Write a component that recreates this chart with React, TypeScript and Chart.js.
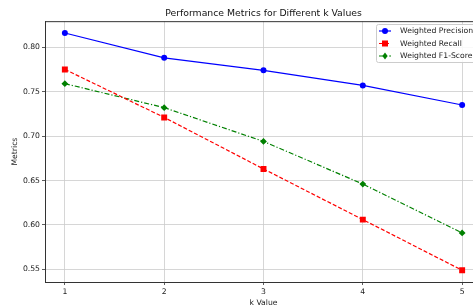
import React, { useEffect, useRef } from "react";
import { Chart, registerables } from "chart.js";

Chart.register(...registerables);

const kValues = [1, 2, 3, 4, 5];
const precision = [0.816, 0.788, 0.774, 0.757, 0.735];
const recall = [0.775, 0.721, 0.663, 0.606, 0.549];
const f1 = [0.759, 0.732, 0.694, 0.646, 0.591];
const yTicks = [0.55, 0.6, 0.65, 0.7, 0.75, 0.8];
const xTicks = [1, 2, 3, 4, 5];
const seriesNames = ["Weighted Precision", "Weighted Recall", "Weighted F1-Score"];

const FONT = "'DejaVu Sans', sans-serif";

const legendPlugin = {
  id: "mplLegend",
  afterDraw(chart: any) {
    const ctx = chart.ctx;
    const { top, right, left } = chart.chartArea;
    ctx.save();
    // top and right spines
    ctx.strokeStyle = "#333";
    ctx.lineWidth = 1;
    ctx.beginPath();
    ctx.moveTo(left, top + 0.5);
    ctx.lineTo(right, top + 0.5);
    ctx.stroke();
    ctx.beginPath();
    ctx.moveTo(right - 0.5, top);
    ctx.lineTo(right - 0.5, chart.chartArea.bottom);
    ctx.stroke();

    const bx = 376.5, by = 24.5, bw = 112, bh = 38;
    ctx.fillStyle = "rgba(255,255,255,0.85)";
    ctx.strokeStyle = "#cccccc";
    ctx.beginPath();
    (ctx as any).roundRect(bx, by, bw, bh, 2);
    ctx.fill();
    ctx.stroke();
    ctx.font = `7.7px ${FONT}`;
    ctx.textBaseline = "middle";
    chart.data.datasets.forEach((ds: any, i: number) => {
      const y = 31 + i * 12.5;
      ctx.strokeStyle = ds.borderColor;
      ctx.lineWidth = 1.2;
      ctx.setLineDash(ds.borderDash || []);
      ctx.beginPath();
      ctx.moveTo(379, y);
      ctx.lineTo(391, y);
      ctx.stroke();
      ctx.setLineDash([]);
      ctx.fillStyle = ds.borderColor;
      const cx = 385;
      ctx.beginPath();
      if (ds.pointStyle === "circle") {
        ctx.arc(cx, y, 3, 0, Math.PI * 2);
        ctx.fill();
      } else if (ds.pointStyle === "rect") {
        ctx.fillRect(cx - 3, y - 3, 6, 6);
      } else {
        ctx.moveTo(cx, y - 3.6);
        ctx.lineTo(cx + 2.6, y);
        ctx.lineTo(cx, y + 3.6);
        ctx.lineTo(cx - 2.6, y);
        ctx.closePath();
        ctx.fill();
      }
      ctx.fillStyle = "#222";
      ctx.fillText(seriesNames[i], 400, y + 0.5);
    });
    ctx.restore();
  },
};

export default function App() {
  const ref = useRef<HTMLCanvasElement>(null);
  useEffect(() => {
    if (!ref.current) return;
    const mk = (i: number, vals: number[], color: string, style: string, dash: number[], r: number) => ({
      label: seriesNames[i],
      data: kValues.map((k, j) => ({ x: k, y: vals[j] })),
      borderColor: color,
      backgroundColor: color,
      borderWidth: 1.2,
      borderDash: dash,
      pointStyle: style,
      pointRadius: r,
      pointBorderWidth: 0,
      tension: 0,
    });
    const chart = new Chart(ref.current, {
      type: "line",
      data: {
        datasets: [
          mk(0, precision, "#0000ff", "circle", [], 3),
          mk(1, recall, "#ff0000", "rect", [4, 2], 4.2),
          mk(2, f1, "#008000", "rectRot", [5, 2, 1.2, 2], 3.4),
        ] as any,
      },
      options: {
        animation: false,
        responsive: false,
        devicePixelRatio: 1,
        layout: { padding: { left: 0, right: 8, top: 0, bottom: 0 } },
        plugins: {
          legend: { display: false },
          tooltip: { enabled: false },
          title: {
            display: true,
            text: "Performance Metrics for Different k Values",
            fullSize: false,
            color: "#111",
            font: { family: FONT, size: 9.3, weight: "normal" as any, lineHeight: 1.2 },
            padding: { top: 8, bottom: 2 },
          },
        },
        scales: {
          x: {
            type: "linear",
            min: 0.8,
            max: 5.2,
            afterBuildTicks: (s: any) => { s.ticks = xTicks.map((v) => ({ value: v })); },
            afterFit: (s: any) => { s.height = 28; },
            ticks: { color: "#222", font: { family: FONT, size: 7.7 }, padding: 2, maxRotation: 0, callback: (v: any) => String(v) },
            grid: { color: "#cccccc", lineWidth: 0.8, tickLength: 3, tickColor: "#333", drawTicks: true },
            border: { display: true, color: "#333", width: 1 },
            title: { display: true, text: "k Value", color: "#222", font: { family: FONT, size: 7.7, lineHeight: 1.2 }, padding: 2 },
          },
          y: {
            type: "linear",
            min: 0.5358,
            max: 0.8293,
            afterBuildTicks: (s: any) => { s.ticks = yTicks.map((v) => ({ value: v })); },
            afterFit: (s: any) => { s.width = 45; },
            ticks: { color: "#222", font: { family: FONT, size: 7.7 }, padding: 2, callback: (v: any) => Number(v).toFixed(2) },
            grid: { color: "#cccccc", lineWidth: 0.8, tickLength: 3, tickColor: "#333", drawTicks: true },
            border: { display: true, color: "#333", width: 1 },
            title: { display: true, text: "Metrics", color: "#222", font: { family: FONT, size: 7.7, lineHeight: 1.2 }, padding: { top: 10, bottom: 0 } },
          },
        },
      } as any,
      plugins: [legendPlugin],
    });
    return () => chart.destroy();
  }, []);
  return (
    <div style={{ position: "absolute", left: 0, top: 0, width: 473, height: 305, overflow: "hidden", background: "#fff" }}>
      <canvas ref={ref} width={490} height={310} style={{ display: "block" }} />
    </div>
  );
}
